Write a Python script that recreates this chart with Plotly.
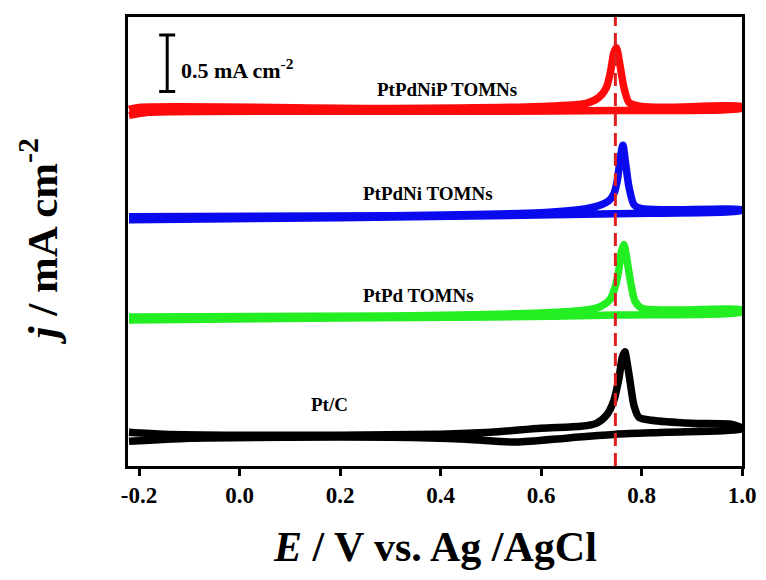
import plotly.graph_objects as go

# ---------------- data ----------------
# Pt/C (black)
ptc_fwd_E = [-0.22, -0.1, 0.1, 0.3, 0.45, 0.55, 0.65, 0.75, 0.85, 1.0]
ptc_fwd_j = [0.219, 0.246, 0.254, 0.254, 0.237, 0.211, 0.246, 0.281, 0.298, 0.325]
ptc_rev_E = [1.0, 0.98, 0.9, 0.82, 0.795, 0.785, 0.777, 0.770, 0.767, 0.762, 0.755, 0.745, 0.73, 0.71, 0.68, 0.6, 0.5, 0.4, 0.2, 0.0, -0.15, -0.22]
ptc_rev_j = [0.333, 0.368, 0.377, 0.404, 0.43, 0.535, 0.754, 0.947, 1.009, 0.965, 0.772, 0.579, 0.447, 0.377, 0.351, 0.333, 0.298, 0.281, 0.272, 0.272, 0.281, 0.298]

# PtPd TOMNs (green)
ptpd_fwd_E = [-0.22, 0.2, 0.5, 0.75, 1.0]
ptpd_fwd_j = [1.289, 1.307, 1.316, 1.333, 1.36]
ptpd_rev_E = [1.0, 0.85, 0.8, 0.787, 0.778, 0.770, 0.765, 0.760, 0.755, 0.748, 0.738, 0.72, 0.69, 0.6, 0.3, -0.22]
ptpd_rev_j = [1.377, 1.377, 1.395, 1.456, 1.632, 1.851, 1.956, 1.895, 1.737, 1.588, 1.474, 1.412, 1.377, 1.351, 1.325, 1.316]

# PtPdNi TOMNs (blue)
ptpdni_fwd_E = [-0.22, 0.2, 0.5, 0.75, 1.0]
ptpdni_fwd_j = [2.175, 2.193, 2.21, 2.228, 2.254]
ptpdni_rev_E = [1.0, 0.85, 0.8, 0.785, 0.775, 0.768, 0.763, 0.758, 0.752, 0.745, 0.735, 0.72, 0.69, 0.6, 0.3, -0.22]
ptpdni_rev_j = [2.263, 2.263, 2.272, 2.307, 2.465, 2.684, 2.833, 2.728, 2.526, 2.404, 2.342, 2.307, 2.272, 2.237, 2.21, 2.202]

# PtPdNiP TOMNs (red)
ptpdnip_fwd_E = [-0.22, -0.18, 0.2, 0.5, 0.75, 1.0]
ptpdnip_fwd_j = [3.096, 3.123, 3.132, 3.132, 3.14, 3.158]
ptpdnip_rev_E = [1.0, 0.85, 0.8, 0.775, 0.765, 0.757, 0.750, 0.745, 0.738, 0.73, 0.715, 0.69, 0.6, 0.3, -0.2, -0.22]
ptpdnip_rev_j = [3.175, 3.167, 3.175, 3.21, 3.342, 3.544, 3.693, 3.649, 3.474, 3.342, 3.254, 3.202, 3.175, 3.158, 3.167, 3.149]

series_names = ["Pt/C", "PtPd TOMNs", "PtPdNi TOMNs", "PtPdNiP TOMNs"]
series_colors = ["#000000", "#22ee22", "#0a0aee", "#ff0a0a"]
label_E = [0.18, 0.357, 0.375, 0.413]
label_j = [0.545, 1.51, 2.405, 3.325]

peak_marker_E = 0.748           # dashed reference line
scale_bar_E = -0.144            # 0.5 mA cm-2 scale bar
scale_bar_center_j = 3.557
scale_bar_half = 0.25

x_ticks = [-0.2, 0.0, 0.2, 0.4, 0.6, 0.8, 1.0]
x_ticktext = ["-0.2", "0.0", "0.2", "0.4", "0.6", "0.8", "1.0"]
x_range = [-0.222, 1.0]
y_range = [0.0, 3.965]

FONT = "Liberation Serif, Times New Roman, serif"

fig = go.Figure()

curves = [
    (ptc_fwd_E + ptc_rev_E, ptc_fwd_j + ptc_rev_j),
    (ptpd_fwd_E + ptpd_rev_E, ptpd_fwd_j + ptpd_rev_j),
    (ptpdni_fwd_E + ptpdni_rev_E, ptpdni_fwd_j + ptpdni_rev_j),
    (ptpdnip_fwd_E + ptpdnip_rev_E, ptpdnip_fwd_j + ptpdnip_rev_j),
]
for (E, j), name, col in zip(curves, series_names, series_colors):
    fig.add_trace(go.Scatter(x=E, y=j, mode="lines", name=name,
                             line=dict(color=col, width=7.5, shape="spline", smoothing=0.7),
                             showlegend=False, hoverinfo="skip"))

# dashed reference line
fig.add_trace(go.Scatter(x=[peak_marker_E, peak_marker_E], y=y_range, mode="lines",
                         line=dict(color="#e02020", width=3, dash="13px,7px"),
                         showlegend=False, hoverinfo="skip"))

# scale bar
fig.add_trace(go.Scatter(x=[scale_bar_E], y=[scale_bar_center_j], mode="markers",
                         marker=dict(size=1, color="rgba(0,0,0,0)"),
                         error_y=dict(type="constant", value=scale_bar_half, color="black",
                                      thickness=3, width=8),
                         showlegend=False, hoverinfo="skip"))

annotations = []
for name, xe, yj in zip(series_names, label_E, label_j):
    annotations.append(dict(x=xe, y=yj, xref="x", yref="y", text="<b>%s</b>" % name,
                            showarrow=False, font=dict(family=FONT, size=19, color="black")))
annotations.append(dict(x=scale_bar_E + 0.024, y=scale_bar_center_j - 0.05, xref="x", yref="y",
                        xanchor="left", text="<b>0.5 mA cm<sup>-2</sup></b>", showarrow=False,
                        font=dict(family=FONT, size=22, color="black")))
# axis titles
annotations.append(dict(x=-90 / 614, y=0.5, xref="paper", yref="paper", textangle=-90,
                        text="<b><i>j</i> / mA cm<sup>-2</sup></b>", showarrow=False,
                        xanchor="center", yanchor="middle",
                        font=dict(family=FONT, size=43, color="black")))
annotations.append(dict(x=0.5, y=-(548 - 466) / 452, xref="paper", yref="paper",
                        text="<b><i>E</i> / V vs. Ag /AgCl</b>", showarrow=False,
                        xanchor="center", yanchor="middle",
                        font=dict(family=FONT, size=42, color="black")))

# page body adds an 8px margin, so the figure is 8px smaller and margins shifted
fig.update_layout(
    width=758, height=572,
    margin=dict(l=120, r=24, t=6, b=114),
    paper_bgcolor="white", plot_bgcolor="white",
    annotations=annotations,
    xaxis=dict(range=x_range, tickvals=x_ticks, ticktext=x_ticktext,
               showgrid=False, zeroline=False, showline=True, linecolor="black", linewidth=2.5,
               mirror=True, ticks="outside", ticklen=7, tickwidth=2.5, tickcolor="black",
               tickfont=dict(family=FONT, size=23, color="black", weight="bold")),
    yaxis=dict(range=y_range, showgrid=False, zeroline=False, showline=True, linecolor="black",
               linewidth=2.5, mirror=True, ticks="", showticklabels=False),
)

fig.write_html("out.html")
